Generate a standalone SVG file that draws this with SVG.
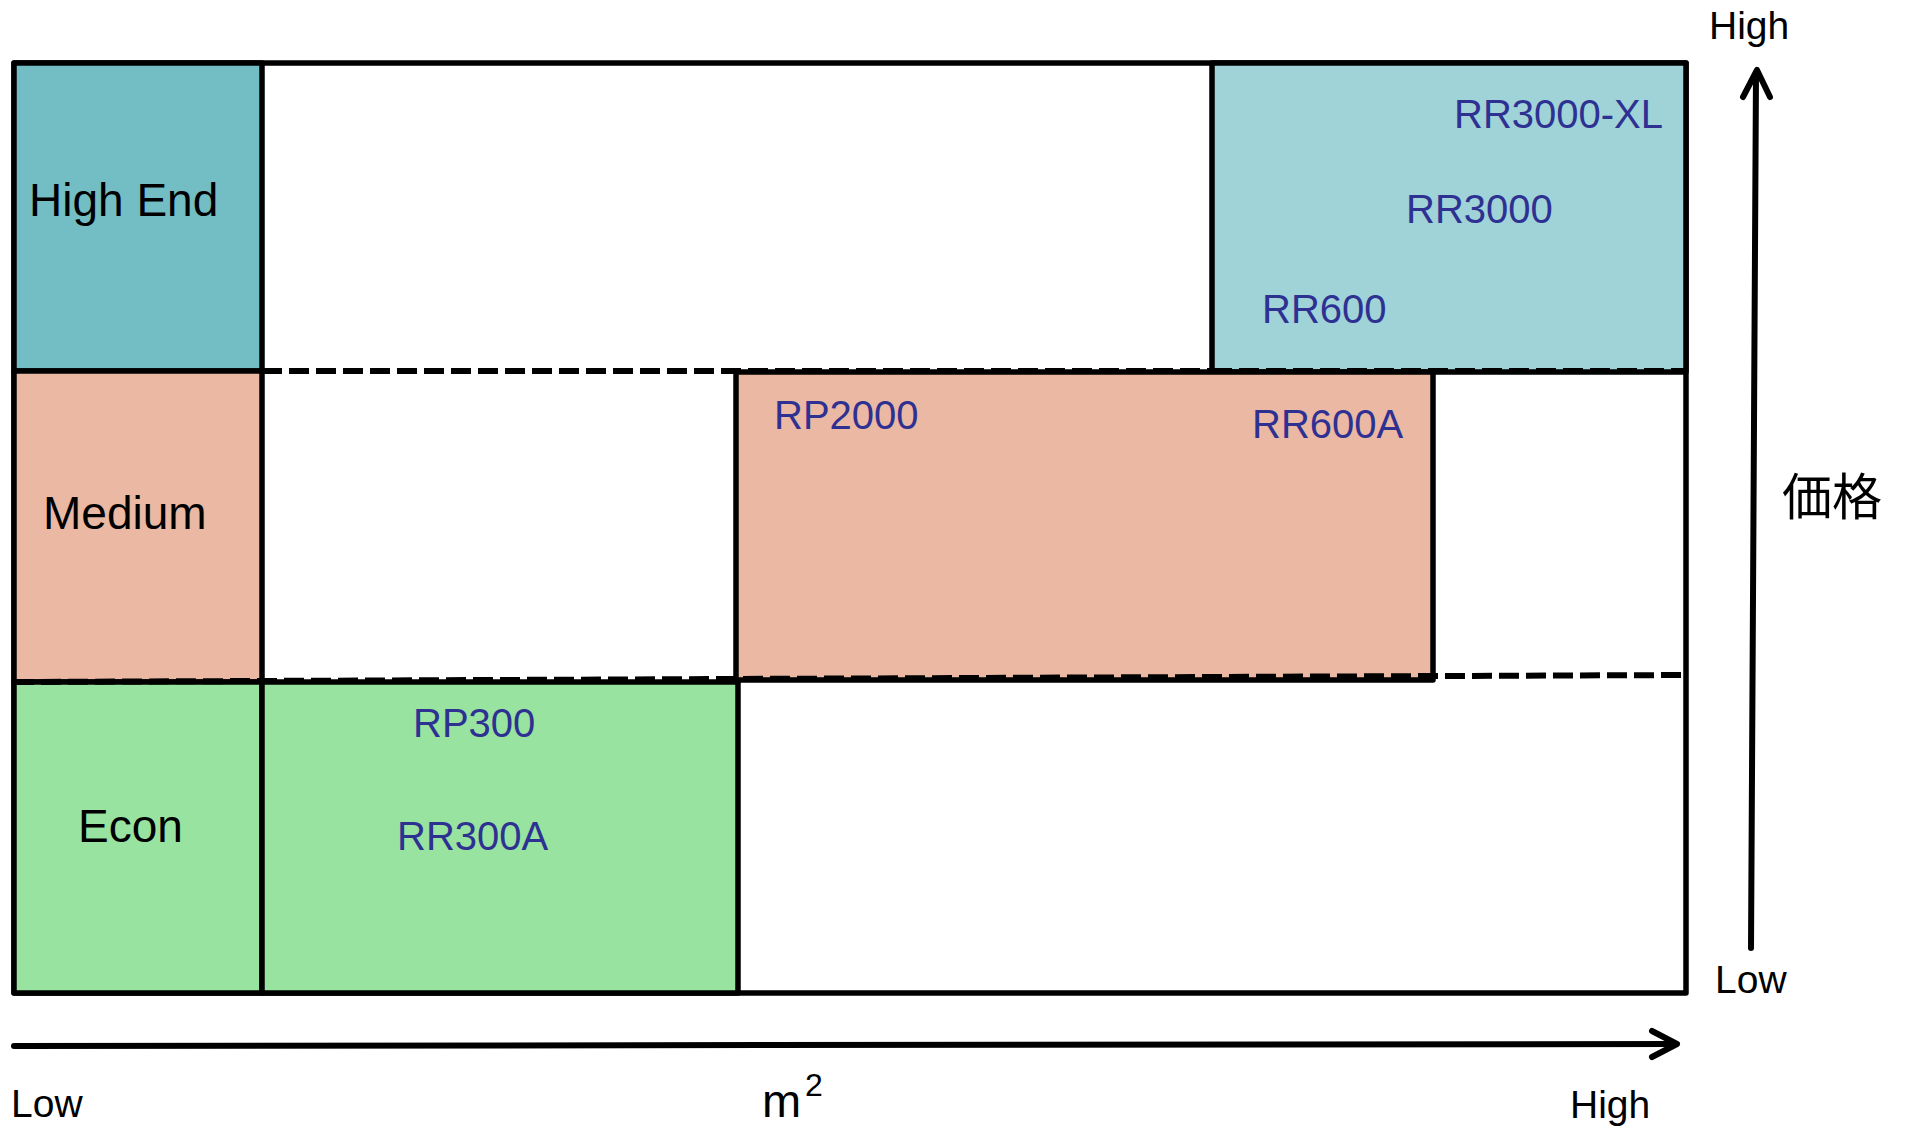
<svg xmlns="http://www.w3.org/2000/svg" width="1906" height="1128" viewBox="0 0 1906 1128">
<style>
.box{stroke:#000;stroke-width:5.5;stroke-linejoin:round}
.cat{font-family:"Liberation Sans",Arial,sans-serif;font-size:46px;fill:#000}
.prod{font-family:"Liberation Sans",Arial,sans-serif;font-size:40px;fill:#2E3192}
.ax{font-family:"Liberation Sans",Arial,sans-serif;font-size:39px;fill:#000}
.dash{stroke:#000;stroke-width:6;stroke-dasharray:20 7;fill:none}
.axis{stroke:#000;stroke-width:6;fill:none;stroke-linecap:round;stroke-linejoin:round}
</style>
<rect width="1906" height="1128" fill="#fff"/>
<g id="frame"><rect class="box" x="14" y="63" width="1672" height="930" fill="#fff"/></g>
<g id="high-end"><rect class="box" x="14" y="63" width="248" height="308" fill="#73BDC4"/><text class="cat" x="29" y="216">High End</text></g>
<g id="medium"><rect class="box" x="14" y="371" width="248" height="311" fill="#EBB8A3"/><text class="cat" x="43" y="529">Medium</text></g>
<g id="econ"><rect class="box" x="14" y="682" width="248" height="311" fill="#98E3A0"/><text class="cat" x="78" y="842">Econ</text></g>
<g id="high-products"><rect class="box" x="1212" y="63" width="474" height="309" fill="#9FD3D7"/>
<text class="prod" x="1454" y="128">RR3000-XL</text><text class="prod" x="1406" y="223">RR3000</text><text class="prod" x="1262" y="323">RR600</text></g>
<g id="medium-products"><rect class="box" x="736" y="372" width="697" height="308" fill="#EBB8A3"/>
<text class="prod" x="774" y="429">RP2000</text><text class="prod" x="1252" y="438">RR600A</text></g>
<g id="econ-products"><rect class="box" x="262" y="682" width="476" height="311" fill="#98E3A0"/>
<text class="prod" x="413" y="737">RP300</text><text class="prod" x="397" y="850">RR300A</text></g>
<g id="connectors">
<line class="dash" x1="262" y1="371" x2="1212" y2="371"/>
<line class="dash" x1="1212" y1="371" x2="1686" y2="371"/>
<line class="dash" x1="14" y1="682" x2="1686" y2="675"/>
<line class="axis" x1="14" y1="1046" x2="1674" y2="1044"/>
<polyline class="axis" points="1652,1031 1677,1044 1652,1057"/>
<line class="axis" x1="1751" y1="948" x2="1756" y2="73"/>
<polyline class="axis" points="1743,97 1757,70 1770,97"/>
</g>
<g id="labels">
<text class="ax" x="1709" y="39">High</text>
<text class="ax" x="1715" y="993">Low</text>
<text class="ax" x="11" y="1117">Low</text>
<text class="ax" x="1570" y="1118">High</text>
<text font-family="Liberation Sans,Arial,sans-serif" font-size="47" x="762" y="1117">m</text>
<text font-family="Liberation Sans,Arial,sans-serif" font-size="32" x="805" y="1096">2</text>
<text font-family="Noto Sans CJK JP,Noto Sans CJK SC,sans-serif" font-size="50" x="1782" y="515">価格</text>
</g>
</svg>
